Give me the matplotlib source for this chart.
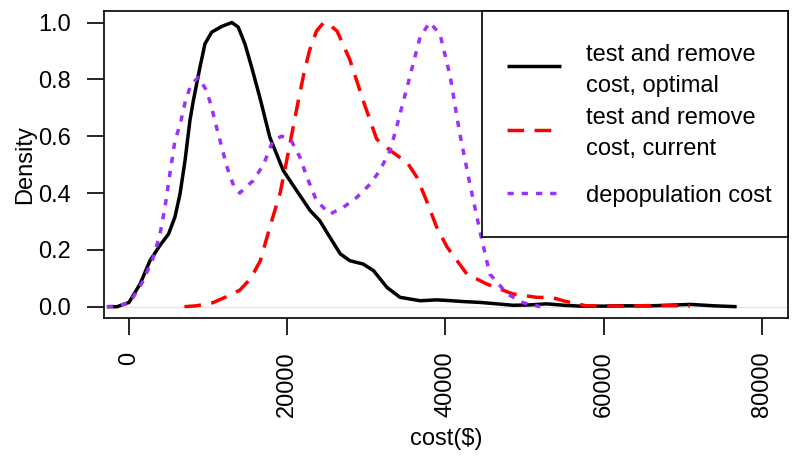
import matplotlib
matplotlib.use("Agg")
import matplotlib.pyplot as plt
from matplotlib.patches import Rectangle

plt.rcParams['font.family'] = ['Liberation Sans', 'DejaVu Sans']

# --- data ---
opt_x = [-2800, -1500, 0, 1400, 2650, 3900, 5000, 5800, 6450, 7080, 7700, 8130, 8970, 9600,
         10450, 11700, 13000, 13800, 14650, 15500, 16550, 17800, 19500, 21200, 22900, 24100,
         25400, 26700, 27900, 29600, 30900, 32600, 34250, 36800, 38900, 40200, 42300, 44400,
         46500, 48500, 50500, 52800, 55000, 57000, 60000, 62000, 65800, 68000, 71000, 74000,
         76800]
opt_y = [0.0, 0.0, 0.015, 0.08, 0.162, 0.215, 0.256, 0.315, 0.397, 0.514, 0.655, 0.725, 0.843, 0.925,
         0.966, 0.986, 1.0, 0.984, 0.925, 0.843, 0.735, 0.596, 0.479, 0.408, 0.338, 0.303,
         0.244, 0.186, 0.162, 0.150, 0.127, 0.068, 0.033, 0.021, 0.024, 0.022, 0.018, 0.015,
         0.01, 0.005, 0.006, 0.01, 0.005, 0.002, 0.002, 0.003, 0.003, 0.005, 0.008, 0.003,
         0.0]

cur_x = [7000, 8500, 10600, 12300, 14000, 15400, 16600, 17800, 19100, 19900, 20700, 21400,
         22100, 22800, 23700, 24600, 25200, 26300, 27900, 29600, 31300, 33000, 34000,
         35100, 36400, 37600, 38900, 40200, 42700, 45200, 48500, 51500, 53500, 55000, 57800,
         62000, 66000, 70900]
cur_y = [0.0, 0.003, 0.014, 0.035, 0.058, 0.10, 0.162, 0.28, 0.40, 0.51, 0.625, 0.725,
         0.82, 0.90, 0.97, 1.0, 0.995, 0.97, 0.87, 0.725, 0.59, 0.55, 0.53,
         0.51, 0.455, 0.373, 0.279, 0.21, 0.115, 0.08, 0.045, 0.033, 0.032, 0.02, 0.003,
         0.002, 0.004, 0.003]

dep_x = [-2800, -1500, 100, 1770, 3030, 3920, 4550, 5180, 5810, 6450, 7100, 7800, 8760, 9820,
         10450, 11080, 12400, 13300, 14000, 15700, 17000, 18200, 19300, 20500, 21600, 22500,
         23700, 25400, 27100, 28800, 30500, 31700, 33000, 33800, 34700, 35500, 36800, 38000,
         39300, 40600, 41800, 43100, 44400, 45600, 47800, 49800, 52000]
dep_y = [0.0, 0.002, 0.014, 0.09, 0.17, 0.256, 0.35, 0.47, 0.585, 0.64, 0.72, 0.78, 0.807, 0.76,
         0.70, 0.63, 0.49, 0.42, 0.40, 0.444, 0.50, 0.585, 0.60, 0.585, 0.526, 0.455,
         0.373, 0.326, 0.35, 0.385, 0.432, 0.479, 0.55, 0.63, 0.725, 0.81, 0.95, 1.0,
         0.96, 0.81, 0.61, 0.43, 0.26, 0.115, 0.045, 0.014, 0.0]

labels = ["test and remove\ncost, optimal", "test and remove\ncost, current", "depopulation cost"]
x_ticks = [0, 20000, 40000, 60000, 80000]
y_ticks = [0.0, 0.2, 0.4, 0.6, 0.8, 1.0]

FS = 17

fig = plt.figure(figsize=(8, 4.65), dpi=100)
ax = fig.add_axes([0.13, 0.316, 0.855, 0.66])

ax.axhline(0, color='#e3e3e3', lw=0.8, zorder=0)
l1, = ax.plot(opt_x, opt_y, color='black', lw=2.5, label=labels[0], solid_capstyle='butt')
l2, = ax.plot(cur_x, cur_y, color='#ff0000', lw=2.5, dashes=(4.8, 3.0), label=labels[1], dash_capstyle='butt')
l3, = ax.plot(dep_x, dep_y, color='#9b30ff', lw=2.5, dashes=(1.8, 2.3), label=labels[2], dash_capstyle='butt')

ax.set_xlim(-3160, 83290)
ax.set_ylim(-0.04, 1.04)
ax.set_xticks(x_ticks)
ax.set_xticklabels([str(v) for v in x_ticks], rotation=90, fontsize=FS)
ax.set_yticks(y_ticks)
ax.set_yticklabels([f"{v:.1f}" for v in y_ticks], fontsize=FS)
ax.tick_params(axis='both', length=12, width=1.2, color='black', pad=12)
for s in ax.spines.values():
    s.set_linewidth(1.2)
ax.set_xlabel("cost($)", fontsize=FS, labelpad=8)
ax.set_ylabel("Density", fontsize=FS, labelpad=1)

# legend frame
ax.add_patch(Rectangle((0.5526, 0.2638), 1 - 0.5526, 1 - 0.2638, transform=ax.transAxes,
                       facecolor='white', edgecolor='black', lw=1.2, zorder=4, clip_on=False))
common = dict(borderaxespad=0, borderpad=0, fontsize=FS, frameon=False,
              handlelength=2.29, handletextpad=1.06)
leg1 = ax.legend(handles=[l1, l2], labels=labels[:2], loc='upper left',
                 bbox_to_anchor=(0.589, 0.894), labelspacing=0.45, handleheight=1.85, **common)
for t in leg1.get_texts():
    t.set_linespacing(1.53)
leg1.set_zorder(5)
ax.add_artist(leg1)
leg2 = ax.legend(handles=[l3], labels=labels[2:], loc='upper left',
                 bbox_to_anchor=(0.589, 0.435), **common)
leg2.set_zorder(5)

fig.savefig("out.png", dpi=100)
